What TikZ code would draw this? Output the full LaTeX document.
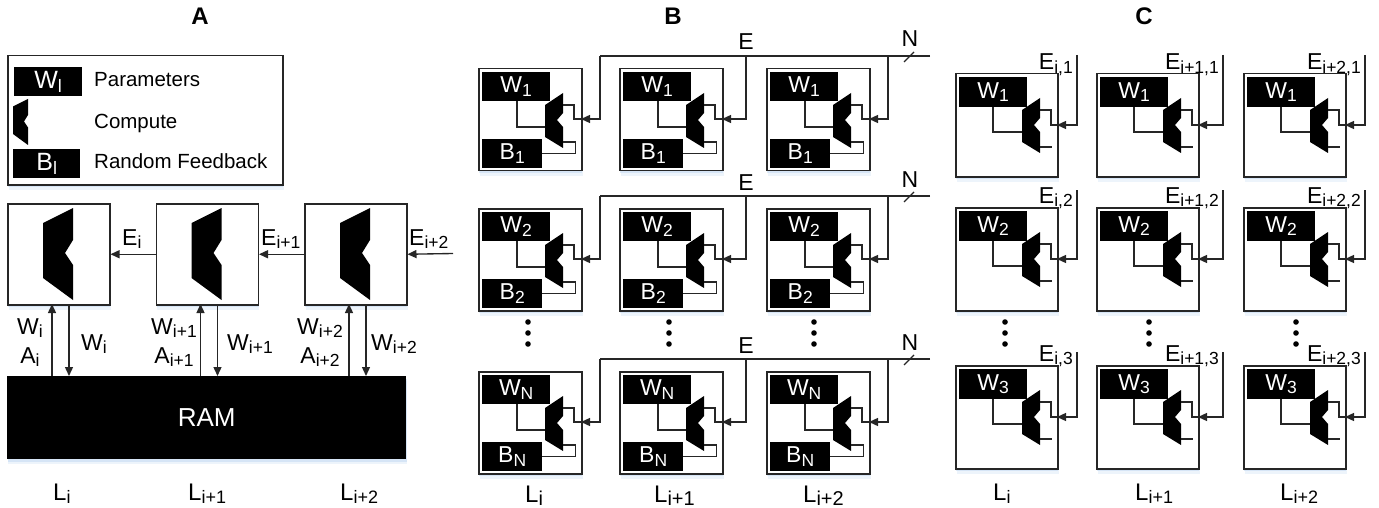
\documentclass[tikz,border=0pt]{standalone}
\usepackage{fontspec}
\setmainfont{Liberation Sans}
\usetikzlibrary{arrows.meta,shadows}

\newcommand{\fs}[1]{\fontsize{#1}{#1}\selectfont}
\newcommand{\ssub}[2][17.5]{\raisebox{-3.5pt}{\fs{#1}#2}}
\definecolor{glowc}{RGB}{185,210,240}

\tikzset{
  glow/.style={
    general shadow={draw=none, fill=glowc, opacity=.25, shadow yshift=-5pt, shadow xshift=1pt},
    general shadow={draw=none, fill=glowc, opacity=.45, shadow yshift=-2.5pt, shadow xshift=.5pt}},
  panel/.style={draw=black!85, line width=1.5pt, fill=white, inner sep=0pt, anchor=north west},
  cellA/.style={panel, minimum width=102pt, minimum height=101pt},
  cellB/.style={panel, minimum width=103pt, minimum height=102pt},
  cellC/.style={panel, minimum width=102pt, minimum height=103pt},
  blk/.style={fill=black, text=white, inner sep=0pt, anchor=north west, font=\fs{23}},
  wire/.style={draw=black!85, line width=1.35pt},
  arr/.style={wire, -{Triangle[length=9pt,width=8pt]}},
  lab/.style={inner sep=0pt, font=\fs{23}},
  ttl/.style={inner sep=0pt, font=\fs{24}\bfseries, anchor=base},
  dot/.style={fill=black},
  % compute unit, large and small variants
  cmpA/.pic={\fill (0,0) -- (-30,15) -- (-30,70) -- (0,92) -- (0,57) -- (-8,45) -- (0,32) -- cycle;},
  cmpB/.pic={\fill (0,0) -- (-18,12) -- (-18,44) -- (0,55) -- (0,34) -- (-6,27) -- (0,20) -- cycle;
    \coordinate (-l) at (-18,34);
    \coordinate (-t) at (0,12);
    \coordinate (-b) at (0,49);}
}

\begin{document}
\begin{tikzpicture}[x=1pt,y=-1pt]
\useasboundingbox (0,0) rectangle (1379,508);

% ---------------- panel A ----------------
\node[ttl] (tA) at (200,25) {A};

% legend
\node[panel, glow, minimum width=275pt, minimum height=129pt] (leg) at (7,55) {};
\node[blk, font=\fs{25}, minimum width=68pt, minimum height=29pt] (legW) at (14,67) {W\ssub[18]{l}};
\pic[scale=0.5] (legC) at (28,99) {cmpA};
\node[blk, font=\fs{25}, minimum width=67pt, minimum height=29pt] (legB) at (13,149) {B\ssub[18]{l}};
\node[lab, font=\fs{20.5}, anchor=base west] (legt1) at (94,87) {Parameters};
\node[lab, font=\fs{20.5}, anchor=base west] (legt2) at (94,129) {Compute};
\node[lab, font=\fs{20.5}, anchor=base west] (legt3) at (94,168) {Random Feedback};

% memory
\node[fill=black, glow, anchor=north west, minimum width=399pt, minimum height=83pt,
      inner sep=0pt, text=white, font=\fs{26}] (ram) at (7,376) {RAM};

% layer units
\foreach \k/\x/\lx/\rx/\Lx/\ii in {1/7/30/81/53/i, 2/155.5/174/227/188/i+1, 3/304/320/371/340/i+2} {
  \node[cellA, glow] (a\k) at (\x,203) {};
  \pic (ac\k) at (\x+66,208) {cmpA};
  \coordinate (au\k) at (\x+45,304);
  \coordinate (ad\k) at (\x+62,304);
  \draw[arr] (au\k |- ram.north) -- (au\k);
  \draw[arr] (ad\k) -- (ad\k |- ram.north);
  \node[lab, anchor=base] (alw\k) at (\lx,334) {W\ssub{\ii}};
  \node[lab, anchor=base] (ala\k) at (\lx,363) {A\ssub{\ii}};
  \node[lab, anchor=base west] (arw\k) at (\rx,350) {W\ssub{\ii}};
  \node[lab, font=\fs{24}, anchor=base west] (aL\k) at (\Lx,500) {L\ssub[18]{\ii}};
}

\coordinate (ein) at (453,253.5);
\draw[arr] (a2.west) -- (a1.east);
\draw[arr] (a3.west) -- (a2.east);
\draw[arr] (ein) -- (a3.east);
\node[lab, anchor=base west] (ae1) at (122,245) {E\ssub{i}};
\node[lab, anchor=base west] (ae2) at (261,245) {E\ssub{i+1}};
\node[lab, anchor=base west] (ae3) at (409,245) {E\ssub{i+2}};

% ---------------- panel B ----------------
\node[ttl] (tB) at (673,25) {B};

\foreach \row/\y/\sx/\by in {1/68/1/56, 2/208/2/196, 3/371/N/359} {
  \coordinate (busR\row) at (930,\by);
  \coordinate (busL\row) at (600,\by);
  \draw[wire] (busR\row) -- (busL\row);
  \draw[wire, line width=1.1pt] (904,\by+6) -- (914,\by-4);
  \node[lab, anchor=base] (bE\row) at (746,\by-6) {E};
  \node[lab, anchor=base] (bN\row) at (910,\by-9) {N};
  \foreach \col/\x/\tp in {1/478/600, 2/619/746, 3/766/888} {
    \node[cellB, glow] (b\row\col) at (\x,\y) {};
    \node[blk, minimum width=68pt, minimum height=29pt] (bw\row\col) at (\x+4,\y+4) {W\ssub{\sx}};
    \node[blk, minimum width=60pt, minimum height=29pt] (bb\row\col) at (\x+4,\y+71) {B\ssub{\sx}};
    \pic (bc\row\col) at (\x+85,\y+25) {cmpB};
    \coordinate (bp\row\col) at (\x+103,\y+51);
    \coordinate (bt\row\col) at (\tp,\by);
    \draw[wire] (bw\row\col.south west) ++(35,0) |- (bc\row\col-l);
    \draw[wire] (bc\row\col-t) -- ++(11,0) |- (bp\row\col);
    \draw[wire] (bb\row\col.east) -- ++(33,0) |- (bc\row\col-b);
    \draw[arr] (bt\row\col) |- (bp\row\col);
  }
}

\foreach \x in {528,669,814} {
  \foreach \yy in {322,333,344} { \fill[dot] (\x,\yy) circle (2.8pt); }
}
\node[lab, font=\fs{24}, anchor=base west] (bL1) at (525,502) {L\ssub[20]{i}};
\node[lab, font=\fs{24}, anchor=base west] (bL2) at (654,502) {L\ssub[20]{i+1}};
\node[lab, font=\fs{24}, anchor=base west] (bL3) at (803,502) {L\ssub[20]{i+2}};

% ---------------- panel C ----------------
\node[ttl] (tC) at (1144,25) {C};

\foreach \row/\y/\sx/\et/\eb in {1/73/1/55/70, 2/207/2/190/203, 3/365/3/352/361} {
  \foreach \col/\x/\tp/\ii in {1/955/1077/i, 2/1096/1223/i+1, 3/1243/1365/i+2} {
    \node[cellC, glow] (c\row\col) at (\x,\y) {};
    \node[blk, minimum width=68pt, minimum height=30pt] (cw\row\col) at (\x+4,\y+4) {W\ssub{\sx}};
    \pic (cc\row\col) at (\x+85,\y+25) {cmpB};
    \coordinate (cp\row\col) at (\x+102,\y+52);
    \coordinate (ct\row\col) at (\tp,\et);
    \draw[wire] (cw\row\col.south west) ++(34,0) |- (cc\row\col-l);
    \draw[wire] (cc\row\col-t) -- ++(11,0) |- (cp\row\col);
    \draw[wire] (cc\row\col-b) -- ++(12,0);
    \draw[arr] (ct\row\col) |- (cp\row\col);
    \node[lab, anchor=base east] (ce\row\col) at (\tp-4,\eb) {E\ssub{\ii,\sx}};
  }
}

\foreach \x in {1005,1149,1296} {
  \foreach \yy in {322,333,344} { \fill[dot] (\x,\yy) circle (2.8pt); }
}
\node[lab, font=\fs{24}, anchor=base west] (cL1) at (993,500) {L\ssub[18]{i}};
\node[lab, font=\fs{24}, anchor=base west] (cL2) at (1135,500) {L\ssub[18]{i+1}};
\node[lab, font=\fs{24}, anchor=base west] (cL3) at (1280,500) {L\ssub[18]{i+2}};

\end{tikzpicture}
\end{document}
